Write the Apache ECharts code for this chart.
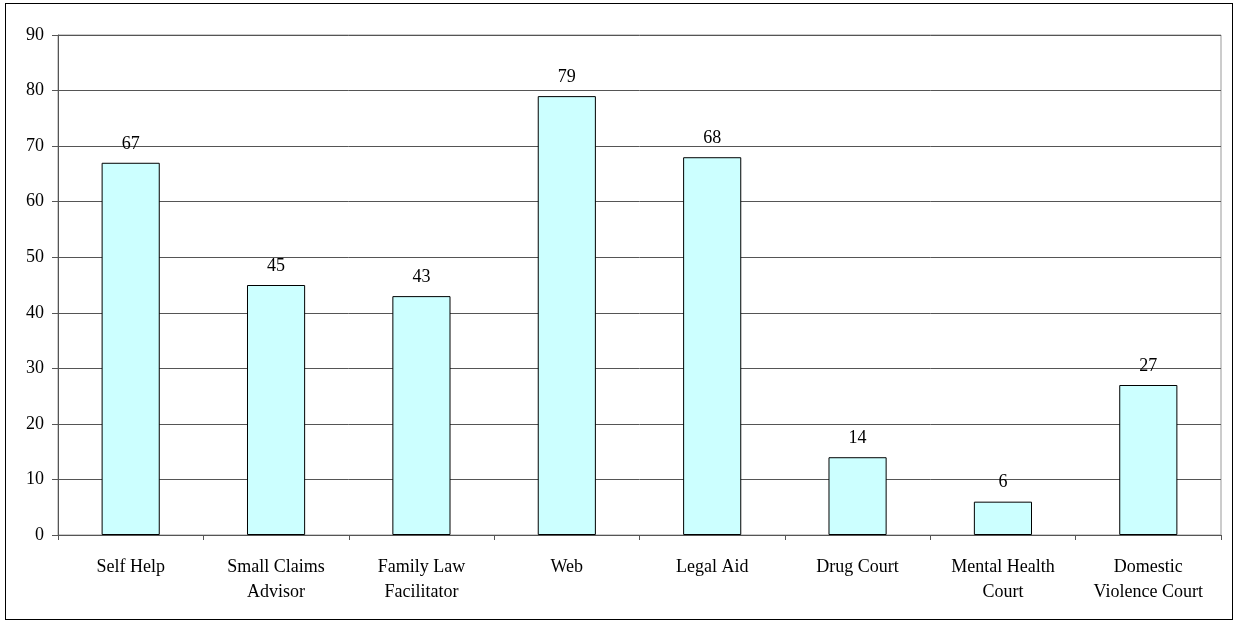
<!DOCTYPE html>
<html>
<head>
<meta charset="utf-8">
<script src="https://cdn.jsdelivr.net/npm/echarts@6/dist/echarts.min.js"></script>
<style>
  html, body { margin: 0; padding: 0; background: #fff; }
  #main { width: 1235px; height: 623px; }
  #frame { position: absolute; left: 5px; top: 3px; width: 1228px; height: 617px; border: 1px solid #000; box-sizing: border-box; pointer-events: none; }
</style>
</head>
<body>
<div id="main"></div>
<div id="frame"></div>
<script>
  const categories = ['Self Help', 'Small Claims\nAdvisor', 'Family Law\nFacilitator', 'Web', 'Legal Aid', 'Drug Court', 'Mental Health\nCourt', 'Domestic\nViolence Court'];
  const values = [67, 45, 43, 79, 68, 14, 6, 27];
  const yMin = 0, yMax = 90, yStep = 10;

  let mychart = echarts.init(document.getElementById('main'));
  let font = '"Liberation Serif", "Times New Roman", serif';
  let option = {
    animation: false,
    grid: { left: 58, right: 14, top: 35, bottom: 88, show: true, borderColor: '#999', borderWidth: 1 },
    xAxis: {
      type: 'category',
      data: categories,
      axisLine: { lineStyle: { color: '#555', width: 1 } },
      axisTick: { show: true, length: 5, lineStyle: { color: '#555' } },
      axisLabel: { color: '#000', fontFamily: font, fontSize: 18, lineHeight: 25, margin: 20, interval: 0 }
    },
    yAxis: {
      type: 'value',
      min: yMin, max: yMax, interval: yStep,
      axisLine: { show: true, lineStyle: { color: '#555', width: 1 } },
      axisTick: { show: true, length: 6, lineStyle: { color: '#555' } },
      splitLine: { lineStyle: { color: '#555', width: 1 } },
      axisLabel: { color: '#000', fontFamily: font, fontSize: 18, margin: 14 }
    },
    series: [{
      type: 'bar',
      data: values,
      barWidth: '40%',
      itemStyle: { color: '#CCFFFF', borderColor: '#000', borderWidth: 1 },
      label: { show: true, position: 'top', distance: 10, color: '#000', fontFamily: font, fontSize: 18 }
    }]
  };
  mychart.setOption(option);
</script>
</body>
</html>
